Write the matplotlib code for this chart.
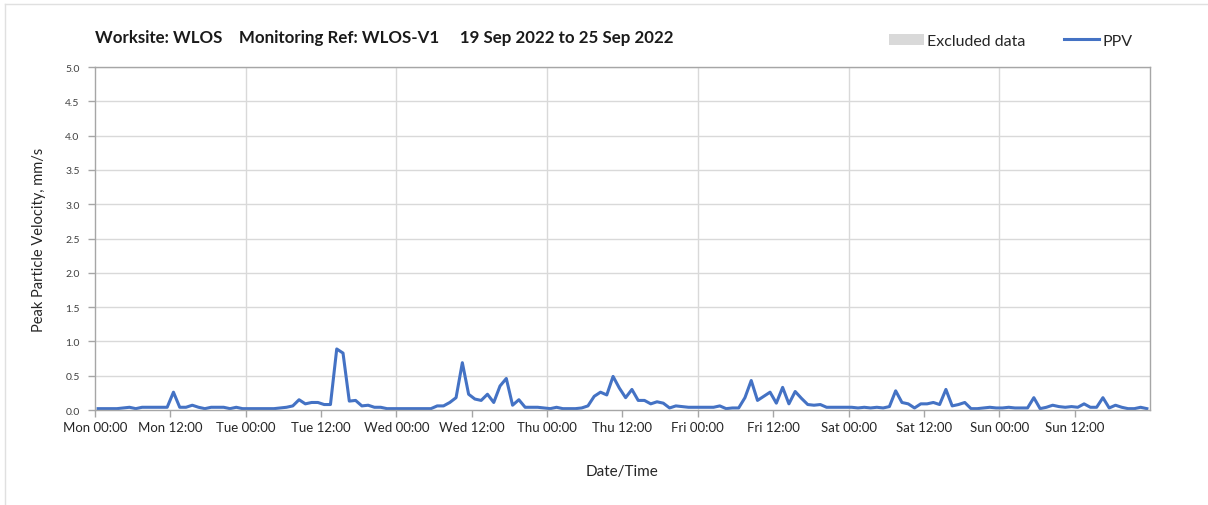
import matplotlib.pyplot as plt
from matplotlib.lines import Line2D
from matplotlib.patches import Patch
import numpy as np

plt.rcParams['font.family'] = ['Lato', 'DejaVu Sans']

# hourly PPV readings (mm/s), one list per day, Mon 19 Sep to Sun 25 Sep 2022
mon = [0.02, 0.02, 0.02, 0.02, 0.03, 0.04, 0.02, 0.04, 0.04, 0.04, 0.04, 0.04,
       0.26, 0.04, 0.04, 0.07, 0.04, 0.02, 0.04, 0.04, 0.04, 0.02, 0.04, 0.02]
tue = [0.02, 0.02, 0.02, 0.02, 0.02, 0.03, 0.04, 0.06, 0.15, 0.09, 0.11, 0.11,
       0.08, 0.08, 0.89, 0.83, 0.13, 0.14, 0.06, 0.07, 0.04, 0.04, 0.02, 0.02]
wed = [0.02, 0.02, 0.02, 0.02, 0.02, 0.02, 0.06, 0.06, 0.11, 0.18, 0.69, 0.23,
       0.16, 0.14, 0.23, 0.11, 0.35, 0.46, 0.07, 0.15, 0.04, 0.04, 0.04, 0.03]
thu = [0.02, 0.04, 0.02, 0.02, 0.02, 0.03, 0.06, 0.20, 0.26, 0.22, 0.49, 0.32,
       0.18, 0.30, 0.14, 0.14, 0.09, 0.12, 0.10, 0.03, 0.06, 0.05, 0.04, 0.04]
fri = [0.04, 0.04, 0.04, 0.06, 0.02, 0.03, 0.03, 0.18, 0.43, 0.14, 0.20, 0.26,
       0.10, 0.33, 0.09, 0.27, 0.17, 0.08, 0.07, 0.08, 0.04, 0.04, 0.04, 0.04]
sat = [0.04, 0.03, 0.04, 0.03, 0.04, 0.03, 0.05, 0.28, 0.11, 0.09, 0.03, 0.09,
       0.09, 0.11, 0.08, 0.30, 0.06, 0.08, 0.11, 0.02, 0.02, 0.03, 0.04, 0.03]
sun = [0.03, 0.04, 0.03, 0.03, 0.03, 0.18, 0.02, 0.04, 0.07, 0.05, 0.04, 0.05,
       0.04, 0.09, 0.04, 0.04, 0.18, 0.03, 0.07, 0.04, 0.02, 0.02, 0.04, 0.02]

days = ['Mon', 'Tue', 'Wed', 'Thu', 'Fri', 'Sat', 'Sun']
tick_labels = [f'{d} {t}' for d in days for t in ('00:00', '12:00')]

ppv = np.array(mon + tue + wed + thu + fri + sat + sun)
hours = np.arange(len(ppv)) + 0.5

fig = plt.figure(figsize=(12.08, 5.06), dpi=100)
ax = fig.add_axes([0.0786, 0.1877, 0.8734, 0.6779])

ax.plot(hours, ppv, color='#4472c4', lw=2.2, solid_joinstyle='round')

ax.set_xlim(0, 168)
ax.set_ylim(0, 5)
ax.set_xticks(np.arange(0, 168, 12))
ax.set_xticklabels(tick_labels, fontsize=9.5, color='#262626')
ax.set_yticks(np.arange(0, 5.01, 0.5))
ax.set_yticklabels([f'{v:.1f}' for v in np.arange(0, 5.01, 0.5)],
                   fontsize=7.5, color='#404040')

# gridlines: horizontal every 0.5, vertical at each midnight
for v in np.arange(0.5, 5.01, 0.5):
    ax.axhline(v, color='#d9d9d9', lw=1, zorder=0)
for d in range(1, 7):
    ax.axvline(d * 24, color='#d9d9d9', lw=1, zorder=0)

for s in ax.spines.values():
    s.set_color('#a6a6a6')
    s.set_linewidth(1)
ax.tick_params(axis='both', colors='#a6a6a6', length=5, width=1)
ax.tick_params(axis='x', labelcolor='#262626', pad=3)
ax.tick_params(axis='y', labelcolor='#404040', pad=6)

ax.set_ylabel('Peak Particle Velocity, mm/s', fontsize=10.5, color='#262626', labelpad=14)
ax.set_xlabel('Date/Time', fontsize=11, color='#262626', labelpad=22)

fig.text(0.0786, 0.925, 'Worksite: WLOS    Monitoring Ref: WLOS-V1     19 Sep 2022 to 25 Sep 2022',
         fontsize=12.2, fontweight='bold', color='#1a1a1a', va='center')

handles = [Patch(facecolor='#d9d9d9', edgecolor='none', label='Excluded data'),
           Line2D([], [], color='#4472c4', lw=2.2, label='PPV')]
fig.legend(handles=handles, loc='center left', bbox_to_anchor=(0.724, 0.917),
           ncol=2, frameon=False, fontsize=11.5, handlelength=2.2, handletextpad=0.2,
           columnspacing=2.4, labelcolor='#262626')

# thin frame along the top and left edges of the figure
fig.add_artist(Line2D([0.004, 1], [0.99, 0.99], color='#e0e0e0', lw=1, transform=fig.transFigure))
fig.add_artist(Line2D([0.004, 0.004], [0, 0.99], color='#e0e0e0', lw=1, transform=fig.transFigure))

fig.savefig('out.png', dpi=100)
